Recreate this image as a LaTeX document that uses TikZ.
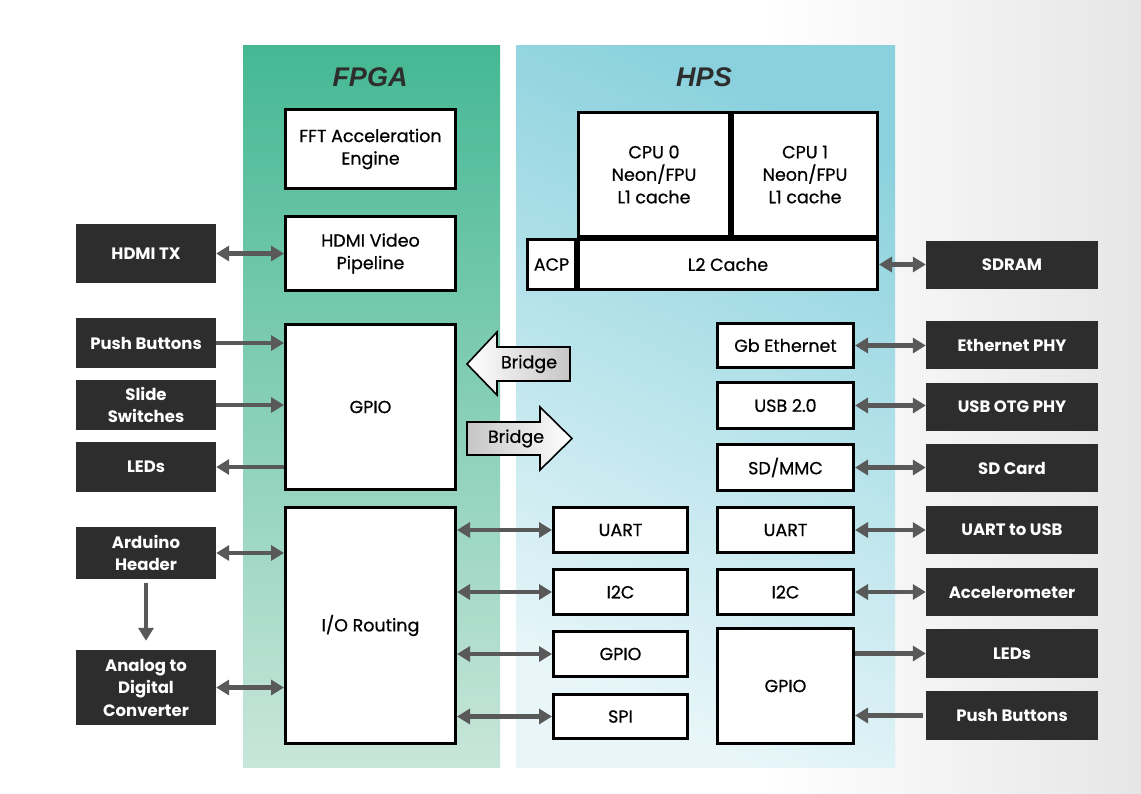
\documentclass[tikz,border=0pt]{standalone}
\usepackage{fontspec}
\setmainfont{Poppins}
\newfontfamily\titlefont{Liberation Sans}
\newfontfamily\blkfont[FakeBold=0.7]{Poppins}
\usetikzlibrary{arrows.meta,calc}

\definecolor{extgray}{HTML}{2D2D2D}
\definecolor{linkgray}{HTML}{595959}
\definecolor{bggray}{HTML}{E6E6E6}
\definecolor{fpgatop}{HTML}{45B893}
\definecolor{fpgabot}{HTML}{C8E6DA}
\definecolor{hpstop}{HTML}{8AD1DD}
\definecolor{hpsbot}{HTML}{E8F6F9}

\tikzset{
  extbox/.style={fill=extgray,text=white,font=\bfseries\fontsize{16.5}{22.5}\selectfont,
    align=center,inner sep=0pt,minimum width=#1},
  extbox/.default=140pt,
  blk/.style={draw=black,line width=3pt,fill=white,font=\blkfont\fontsize{17.5}{22.5}\selectfont,
    align=center,inner sep=0pt},
  titletxt/.style={font=\titlefont\bfseries\itshape\fontsize{27}{30}\selectfont,text=extgray},
  link/.style={draw=linkgray,line width=4.5pt,-{Triangle[length=13pt,width=15pt]}},
  link2/.style={link,{Triangle[length=13pt,width=15pt]}-{Triangle[length=13pt,width=15pt]}},
  bridge/.style={draw=black,line width=1.6pt},
  bridgetxt/.style={font=\blkfont\fontsize{17.5}{20}\selectfont}
}

\begin{document}
\begin{tikzpicture}[x=1pt,y=-1pt]
  % background
  \fill[white] (0,0) rectangle (1141,793);
  \shade[left color=white,right color=bggray] (760,0) rectangle (1141,793);
  \useasboundingbox (0,0) rectangle (1141,793);

  % the two panels
  \shade[top color=fpgatop,bottom color=fpgabot] (243,45) rectangle (500,767);
  \shade[top color=hpstop,bottom color=hpsbot,shading angle=-25] (516,45) rectangle (895,767);
  \node[titletxt] (fpgattl) at (370,77) {FPGA};
  \node[titletxt] (hpsttl) at (704,77) {HPS};

  % FPGA blocks
  \node[blk,minimum width=170pt,minimum height=79pt] (fft) at (370.5,149) {FFT Acceleration\\Engine};
  \node[blk,minimum width=170pt,minimum height=74pt] (hdmivid) at (370.5,253.5) {HDMI Video\\Pipeline};
  \node[blk,minimum width=170pt,minimum height=165pt] (fgpio) at (370.5,407) {GPIO};
  \node[blk,minimum width=170pt,minimum height=236pt] (iorout) at (370.5,625.5) {I/O Routing};

  % HPS processor
  \node[blk,minimum width=151pt,minimum height=124pt] (cpua) at (654,174.5) {CPU 0\\Neon/FPU\\L1 cache};
  \node[blk,minimum width=145pt,minimum height=124pt] (cpub) at (805,174.5) {CPU 1\\Neon/FPU\\L1 cache};
  \node[blk,minimum width=48pt,minimum height=50pt] (acp) at (551.5,264.5) {ACP};
  \node[blk,minimum width=299pt,minimum height=50pt] (ltwo) at (728,264.5) {L2 Cache};

  % HPS peripherals
  \node[blk,minimum width=134pt,minimum height=45pt] (fuart) at (620.5,530) {UART};
  \node[blk,minimum width=134pt,minimum height=45pt] (fitwoc) at (620.5,592) {I2C};
  \node[blk,minimum width=134pt,minimum height=45pt] (fgpiob) at (620.5,654) {GPIO};
  \node[blk,minimum width=134pt,minimum height=44pt] (fspi) at (620.5,716.5) {SPI};

  \node[blk,minimum width=136pt,minimum height=44pt] (gbeth) at (785.5,345.5) {Gb Ethernet};
  \node[blk,minimum width=136pt,minimum height=46pt] (usbtwo) at (785.5,405.5) {USB 2.0};
  \node[blk,minimum width=136pt,minimum height=46pt] (sdmmc) at (785.5,467.5) {SD/MMC};
  \node[blk,minimum width=136pt,minimum height=45pt] (huart) at (785.5,530) {UART};
  \node[blk,minimum width=136pt,minimum height=45pt] (hitwoc) at (785.5,592) {I2C};
  \node[blk,minimum width=136pt,minimum height=115pt] (hgpio) at (785.5,686) {GPIO};

  % bridges
  \shade[bridge,left color=white,right color=gray!45]
    (467,364) -- (497,332) -- (497,347) -- (570,347) -- (570,381) -- (497,381) -- (497,395) -- cycle;
  \shade[bridge,left color=gray!45,right color=white]
    (467,422) -- (540,422) -- (540,407) -- (572,438.5) -- (540,470) -- (540,455) -- (467,455) -- cycle;
  \node[bridgetxt] (bridgeh2f) at (529,364) {Bridge};
  \node[bridgetxt] (bridgef2h) at (516,438.5) {Bridge};

  % board parts, left
  \node[extbox,minimum height=59pt] (hdmitx) at (146,253.5) {HDMI TX};
  \node[extbox,minimum height=50pt] (lpush) at (146,343) {Push Buttons};
  \node[extbox,minimum height=50pt] (lslide) at (146,405) {Slide\\Switches};
  \node[extbox,minimum height=50pt] (lleds) at (146,467) {LEDs};
  \node[extbox,minimum height=52pt] (arduino) at (146,553) {Arduino\\Header};
  \node[extbox,minimum height=75pt] (adc) at (146,687.5) {Analog to\\Digital\\Converter};

  % board parts, right
  \node[extbox=172pt,minimum height=48pt] (sdram) at (1012,265) {SDRAM};
  \node[extbox=172pt,minimum height=48pt] (ethphy) at (1012,345) {Ethernet PHY};
  \node[extbox=172pt,minimum height=48pt] (usbphy) at (1012,407) {USB OTG PHY};
  \node[extbox=172pt,minimum height=48pt] (sdcard) at (1012,468) {SD Card};
  \node[extbox=172pt,minimum height=48pt] (uartusb) at (1012,530) {UART to USB};
  \node[extbox=172pt,minimum height=48pt] (accel) at (1012,592) {Accelerometer};
  \node[extbox=172pt,minimum height=49pt] (rleds) at (1012,653.5) {LEDs};
  \node[extbox=172pt,minimum height=49pt] (rpush) at (1012,715.5) {Push Buttons};

  % FPGA side links
  \draw[link2] (hdmitx.east) -- (hdmitx.east -| hdmivid.west);
  \draw[link] (lpush.east) -- (lpush.east -| fgpio.west);
  \draw[link] (lslide.east) -- (lslide.east -| fgpio.west);
  \draw[link] (lleds.east -| fgpio.west) -- (lleds.east);
  \draw[link2] (arduino.east) -- (arduino.east -| iorout.west);
  \draw[link,shorten <=4pt,shorten >=9pt] (arduino.south) -- (adc.north);
  \draw[link2] (adc.east) -- (adc.east -| iorout.west);
  \draw[link2] (fuart.west -| iorout.east) -- (fuart.west);
  \draw[link2] (fitwoc.west -| iorout.east) -- (fitwoc.west);
  \draw[link2] (fgpiob.west -| iorout.east) -- (fgpiob.west);
  \draw[link2] (fspi.west -| iorout.east) -- (fspi.west);

  % HPS side links
  \draw[link2] (ltwo.east) -- (ltwo.east -| sdram.west);
  \draw[link2] (gbeth.east) -- (gbeth.east -| ethphy.west);
  \draw[link2] (usbtwo.east) -- (usbtwo.east -| usbphy.west);
  \draw[link2] (sdmmc.east) -- (sdmmc.east -| sdcard.west);
  \draw[link2] (huart.east) -- (huart.east -| uartusb.west);
  \draw[link2] (hitwoc.east) -- (hitwoc.east -| accel.west);
  \draw[link] (rleds.west -| hgpio.east) -- (rleds.west);
  \draw[link,shorten <=3pt] (rpush.west) -- (rpush.west -| hgpio.east);
\end{tikzpicture}
\end{document}
